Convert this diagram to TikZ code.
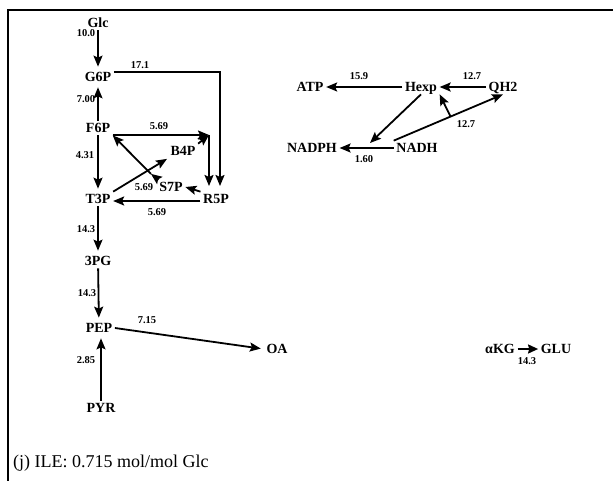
\documentclass[tikz,border=0pt]{standalone}
\usepackage{fontspec}
\setmainfont{Liberation Serif}
\usetikzlibrary{arrows.meta}
\begin{document}
\begin{tikzpicture}[x=1pt,y=-1pt,
  met/.style={font=\fontsize{14}{15}\selectfont\bfseries, inner sep=2.5pt, text height=9.3pt, text depth=0pt},
  num/.style={font=\fontsize{10.5}{11}\selectfont\bfseries, inner sep=0pt},
  arr/.style={line width=1.8pt, -{Stealth[length=11pt,width=9pt,inset=2pt]}, shorten >=3pt},
  ln/.style={line width=1.8pt},
  frame/.style={line width=1.8pt}]
\useasboundingbox (0,0) rectangle (613,481);
% frame
\coordinate (ftl) at (8,10);
\coordinate (ftr) at (613,10);
\coordinate (fbl) at (8,481);
\draw[frame] (ftr) -- (ftl) -- (fbl);

% metabolites
\node[met] (glc) at (98,23) {Glc};
\node[met] (g6p) at (98,77) {G6P};
\node[met] (f6p) at (98,128) {F6P};
\node[met] (b4p) at (183,151) {B4P};
\node[met] (s7p) at (171,187) {S7P};
\node[met] (r5p) at (216,199) {R5P};
\node[met] (t3p) at (98,199) {T3P};
\node[met] (pg3) at (98,261) {3PG};
\node[met] (pep) at (99,328) {PEP};
\node[met] (oa) at (277,349) {OA};
\node[met] (pyr) at (101,408) {PYR};
\node[met] (atp) at (310,87) {ATP};
\node[met] (hexp) at (421,87) {Hexp};
\node[met] (qh2) at (503,87) {QH2};
\node[met] (nadph) at (312,148) {NADPH};
\node[met] (nadh) at (417,148) {NADH};
\node[met] (akg) at (500,349) {αKG};
\node[met] (glu) at (556,349) {GLU};

% flux values
\node[num] (n1) at (86,33) {10.0};
\node[num] (n2) at (140,65) {17.1};
\node[num] (n3) at (86,99) {7.00};
\node[num] (n4) at (159,126) {5.69};
\node[num] (n5) at (85,155) {4.31};
\node[num] (n6) at (144,187) {5.69};
\node[num] (n7) at (157,212) {5.69};
\node[num] (n8) at (86,229) {14.3};
\node[num] (n9) at (87,293) {14.3};
\node[num] (n10) at (147,320) {7.15};
\node[num] (n11) at (86,360) {2.85};
\node[num] (n12) at (359,76) {15.9};
\node[num] (n13) at (472,76) {12.7};
\node[num] (n14) at (466,124) {12.7};
\node[num] (n15) at (364,159) {1.60};
\node[num] (n16) at (527,361) {14.3};

% caption
\node[anchor=west, inner sep=0pt, font=\fontsize{18}{20}\selectfont] (cap) at (13,463) {(j) ILE: 0.715 mol/mol Glc};

% helper coordinates
\coordinate (c17) at (220,72);
\coordinate (c2) at (209,135);
\coordinate (r5ptop) at (216,186);
\coordinate (j1) at (370,143);

% glycolysis
\draw[arr] (glc) -- (g6p);
\draw[arr] (f6p) -- (g6p);
\draw[arr] (f6p) -- (t3p);
\draw[arr] (t3p) -- (pg3);
\draw[arr] (pg3) -- (pep);
\draw[arr] (pyr.north) -- (pyr.north |- pep.south);
\draw[arr] (pep.east) -- (oa.west);

% pentose phosphate
\draw[arr, shorten >=0pt] (g6p.east |- c17) -- (c17) -- (c17 |- r5ptop);
\draw[arr, shorten >=0pt] (f6p.east |- c2) -- (c2);
\draw[arr, shorten >=0pt] (b4p.north east) -- (c2);
\draw[arr, shorten >=0pt] (c2) -- (c2 |- r5ptop);
\draw[arr, shorten >=1pt] (t3p.north east) -- (b4p.south west);
\path (s7p.north west) -- (f6p.south east) coordinate[pos=0.13] (m1);
\draw[arr, shorten >=0pt] ([xshift=2pt]s7p.north west) -- (m1);
\draw[arr, shorten >=0pt] (m1) -- (f6p.south east);
\draw[arr, shorten >=0pt] (r5p.north west) -- (s7p.east);
\draw[arr, shorten >=0pt] ([yshift=-2pt]r5p.west) -- ([yshift=-2pt]r5p.west -| t3p.east);

% energetics
\draw[arr, shorten >=0pt] (hexp.west) -- (atp.east);
\draw[arr, shorten >=0pt] (qh2.west) -- (hexp.east);
\draw[arr, shorten >=0pt] (hexp.south) -- (j1);
\draw[arr, shorten >=0pt] (nadh.west) -- (nadph.east);
\draw[arr, shorten >=0pt] (nadh.north west) -- (qh2.south);
\path (nadh.north west) -- (qh2.south) coordinate[pos=0.52] (j2);
\draw[arr, shorten >=0pt] (j2) -- (hexp.south east);

% aKG -> GLU
\draw[arr, shorten >=0pt, -{Stealth[length=10pt,width=9pt,inset=1pt]}] (akg.east) -- (glu.west);
\end{tikzpicture}
\end{document}
